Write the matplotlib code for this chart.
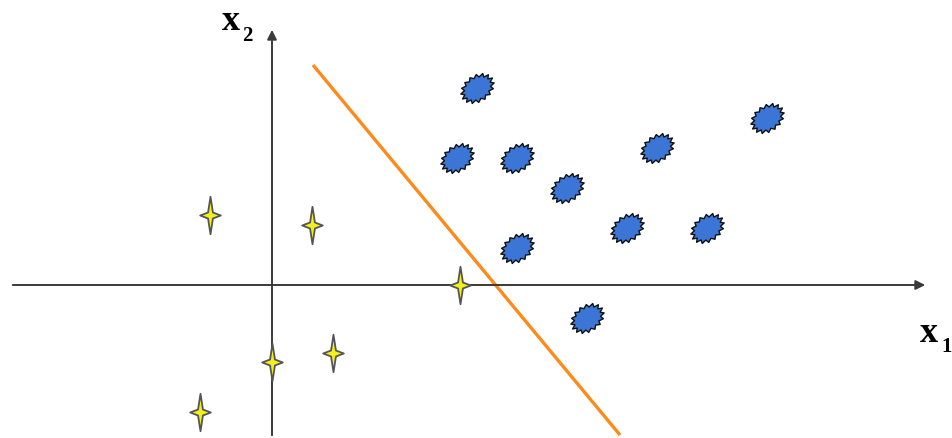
import numpy as np
import matplotlib
matplotlib.use("Agg")
import matplotlib.pyplot as plt
from matplotlib.path import Path

# data (units: origin at axis crossing)
blue_x = [20.5, 18.5, 24.5, 29.5, 38.5, 49.5, 24.5, 35.5, 43.5, 31.5]
blue_y = [19.7, 12.7, 12.7, 9.7, 13.7, 16.7, 3.7, 5.7, 5.7, -3.3]
yellow_x = [-6.2, 4.0, 18.8, 0.0, 6.1, -7.2]
yellow_y = [7.0, 6.0, 0.0, -7.7, -6.8, -12.7]
line_x = [4.1, 34.8]
line_y = [22.0, -15.0]

fig = plt.figure(figsize=(9.52, 4.38), dpi=100)
ax = fig.add_axes([0, 0, 1, 1])
ax.set_xlim(-27.2, 68.0)
ax.set_ylim(-15.3, 28.5)
ax.axis('off')

axis_col = '#3a3a3a'
# axes with arrows
ax.annotate('', xy=(65.6, 0), xytext=(-26.2, 0),
            arrowprops=dict(arrowstyle='-|>', color=axis_col, lw=1.4, mutation_scale=14))
ax.annotate('', xy=(0, 25.8), xytext=(0, -15.3),
            arrowprops=dict(arrowstyle='-|>', color=axis_col, lw=1.4, mutation_scale=14))

# separating line
ax.plot(line_x, line_y, color='#ff8a1c', lw=2.4, solid_capstyle='butt', zorder=2)

# star marker (4-point)
star = Path([(0, 1), (0.13, 0.16), (0.55, 0), (0.13, -0.16), (0, -1),
             (-0.13, -0.16), (-0.55, 0), (-0.13, 0.16), (0, 1)],
            [Path.MOVETO] + [Path.LINETO] * 7 + [Path.CLOSEPOLY])

# spiky ellipse marker
n = 16
t = np.linspace(0, 2 * np.pi, 2 * n, endpoint=False)
r = np.where(np.arange(2 * n) % 2 == 0, 1.28, 1.0)
ex = r * np.cos(t) * 1.0
ey = r * np.sin(t) * 0.72
ang = np.deg2rad(35)
rx = ex * np.cos(ang) - ey * np.sin(ang)
ry = ex * np.sin(ang) + ey * np.cos(ang)
verts = list(zip(rx, ry)) + [(rx[0], ry[0])]
blob = Path(verts, [Path.MOVETO] + [Path.LINETO] * (2 * n - 1) + [Path.CLOSEPOLY])

ax.plot(blue_x, blue_y, linestyle='none', marker=blob, markersize=24,
        markerfacecolor='#3b76d6', markeredgecolor='#111111', markeredgewidth=1.0, zorder=3)
ax.plot(yellow_x, yellow_y, linestyle='none', marker=star, markersize=27,
        markerfacecolor='#f4f01a', markeredgecolor='#555555', markeredgewidth=1.3, zorder=3)

W, H = 952, 438
ffam = ['Liberation Serif', 'DejaVu Serif']
fig.text(231 / W, 1 - 22 / H, 'x', fontsize=26, fontweight='bold', family=ffam,
         ha='center', va='center')
fig.text(247 / W, 1 - 36 / H, '2', fontsize=15, fontweight='bold', family=ffam,
         ha='center', va='center')
fig.text(929 / W, 1 - 334 / H, 'x', fontsize=26, fontweight='bold', family=ffam,
         ha='center', va='center')
fig.text(941 / W, 1 - 347 / H, '1', fontsize=15, fontweight='bold', family=ffam,
         ha='left', va='center')

fig.savefig('out.png', dpi=100)
